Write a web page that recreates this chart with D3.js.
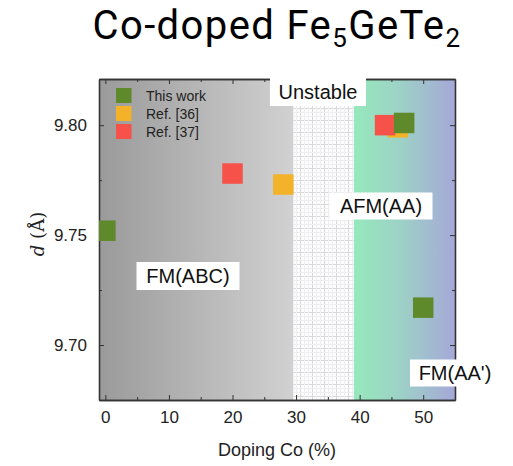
<!DOCTYPE html>
<html>
<head>
<meta charset="utf-8">
<script src="https://cdn.jsdelivr.net/npm/d3@7"></script>
<style>
  html, body { margin: 0; padding: 0; background: #fff; }
  svg { display: block; }
</style>
</head>
<body>
<svg id="chart" width="513" height="466"></svg>
<script>
// Interlayer distance d vs. Co doping level
const thisWork = [ {x: 0, y: 9.752}, {x: 47, y: 9.801}, {x: 50, y: 9.717} ];
const ref36    = [ {x: 28, y: 9.773}, {x: 46, y: 9.799} ];
const ref37    = [ {x: 20, y: 9.778}, {x: 44, y: 9.800} ];

const seriesNames  = ["This work", "Ref. [36]", "Ref. [37]"];
const seriesColors = ["#5f8a2c", "#f2b22a", "#f6524a"];

const xTicks = [0, 10, 20, 30, 40, 50];
const xMinor = [5, 15, 25, 35, 45];
const yTicks = [9.70, 9.75, 9.80];
const yMinor = [9.725, 9.775];

// Phase regions along the doping axis
const phaseBounds = { fmEnd: 29.6, unstableEnd: 39.1 };
const phaseLabels = ["FM(ABC)", "Unstable", "AFM(AA)", "FM(AA')"];

const svg = d3.select("#chart");
const L = 99, R = 455, T = 79, B = 400;

const x = d3.scaleLinear().domain([-1, 55]).range([L, R]);
const y = d3.scaleLinear().domain([9.675, 9.821]).range([B, T]);

const defs = svg.append("defs");
const gGray = defs.append("linearGradient").attr("id", "gGray")
  .attr("x1", "0%").attr("x2", "100%").attr("y1", "0%").attr("y2", "0%");
gGray.append("stop").attr("offset", "0%").attr("stop-color", "#9a9a9a");
gGray.append("stop").attr("offset", "100%").attr("stop-color", "#d1d1d1");

const gCool = defs.append("linearGradient").attr("id", "gCool")
  .attr("x1", "0%").attr("x2", "100%").attr("y1", "0%").attr("y2", "0%");
gCool.append("stop").attr("offset", "0%").attr("stop-color", "#96e8bc");
gCool.append("stop").attr("offset", "45%").attr("stop-color", "#9dd2c6");
gCool.append("stop").attr("offset", "100%").attr("stop-color", "#a5a8d8");

// Grid texture for the unstable window
const pat = defs.append("pattern").attr("id", "grid")
  .attr("patternUnits", "userSpaceOnUse").attr("width", 12).attr("height", 12);
pat.append("rect").attr("width", 12).attr("height", 12).attr("fill", "#fcfcfd");
[[0, "#d9d9dd"], [4, "#eeeef1"], [8, "#eeeef1"]].forEach(([p, c]) => {
  pat.append("rect").attr("x", p).attr("y", 0).attr("width", 1).attr("height", 12).attr("fill", c);
  pat.append("rect").attr("x", 0).attr("y", p).attr("width", 12).attr("height", 1).attr("fill", c);
});

defs.append("clipPath").attr("id", "plotClip")
  .append("rect").attr("x", L).attr("y", T).attr("width", R - L).attr("height", B - T);

// Backgrounds
svg.append("rect").attr("x", L).attr("y", T)
  .attr("width", x(phaseBounds.fmEnd) - L).attr("height", B - T).attr("fill", "url(#gGray)");
svg.append("rect").attr("x", x(phaseBounds.fmEnd)).attr("y", T)
  .attr("width", x(phaseBounds.unstableEnd) - x(phaseBounds.fmEnd)).attr("height", B - T)
  .attr("fill", "url(#grid)");
svg.append("rect").attr("x", x(phaseBounds.unstableEnd)).attr("y", T)
  .attr("width", R - x(phaseBounds.unstableEnd)).attr("height", B - T).attr("fill", "url(#gCool)");

// Axes (ticks point inward on all four sides)
const tickFont = "'Liberation Sans', Arial, sans-serif";
function styleAxis(g) {
  g.selectAll(".domain").attr("stroke", "#333").attr("stroke-width", 1.3);
  g.selectAll(".tick line").attr("stroke", "#333").attr("stroke-width", 1);
}
function addAxis(axisFn, scale, pos, vals, len, labelled, pad) {
  const isX = axisFn === d3.axisBottom || axisFn === d3.axisTop;
  let ax = axisFn(scale).tickValues(vals).tickSize(-len).tickSizeOuter(0);
  if (labelled) ax = ax.tickPadding(pad).tickFormat(isX ? d3.format("d") : d3.format(".2f"));
  else ax = ax.tickFormat("");
  const g = svg.append("g")
    .attr("transform", isX ? `translate(0,${pos})` : `translate(${pos},0)`)
    .call(ax);
  g.selectAll("text").attr("font-family", tickFont).attr("font-size", 17).attr("fill", "#222");
  styleAxis(g);
  return g;
}
addAxis(d3.axisBottom, x, B, xTicks, 5, true, 11);
addAxis(d3.axisBottom, x, B, xMinor, 3, false);
addAxis(d3.axisTop, x, T, xTicks, 5, false);
addAxis(d3.axisTop, x, T, xMinor, 3, false);
addAxis(d3.axisLeft, y, L, yTicks, 5, true, 12);
addAxis(d3.axisLeft, y, L, yMinor, 3, false);
addAxis(d3.axisRight, y, R, yTicks, 5, false);
addAxis(d3.axisRight, y, R, yMinor, 3, false);

// Data markers
const size = 20.5;
const plot = svg.append("g").attr("clip-path", "url(#plotClip)");
[[ref36, 1], [ref37, 2], [thisWork, 0]].forEach(([data, idx]) => {
  plot.selectAll(null).data(data).enter().append("rect")
    .attr("x", d => x(d.x) - size / 2).attr("y", d => y(d.y) - size / 2)
    .attr("width", size).attr("height", size)
    .attr("fill", seriesColors[idx]);
});

// Phase labels with white boxes
function boxedLabel(text, cx, cy, w, h) {
  const g = svg.append("g");
  g.append("rect").attr("x", cx - w / 2).attr("y", cy - h / 2)
    .attr("width", w).attr("height", h).attr("fill", "#fff");
  g.append("text").attr("x", cx).attr("y", cy).attr("dy", "0.36em")
    .attr("text-anchor", "middle").attr("font-family", tickFont)
    .attr("font-size", 20).attr("fill", "#111").text(text);
}
boxedLabel(phaseLabels[0], 188, 276, 103, 28);
boxedLabel(phaseLabels[1], 318, 92, 96, 28);
boxedLabel(phaseLabels[2], 381, 206, 103, 27);
boxedLabel(phaseLabels[3], 455, 373, 90, 27);

// Legend
const legend = svg.append("g");
seriesNames.forEach((name, i) => {
  const ly = 95.5 + i * 18;
  legend.append("rect").attr("x", 116).attr("y", ly - 7.5).attr("width", 15.5).attr("height", 15)
    .attr("fill", seriesColors[i]);
  legend.append("text").attr("x", 146).attr("y", ly).attr("dy", "0.36em")
    .attr("font-family", tickFont).attr("font-size", 14).attr("fill", "#222").text(name);
});

// Axis titles
svg.append("text").attr("x", 277).attr("y", 450).attr("dy", "0.36em")
  .attr("text-anchor", "middle").attr("font-family", tickFont).attr("font-size", 18)
  .attr("fill", "#222").text("Doping Co (%)");

const yl = svg.append("text").attr("transform", "translate(38,234) rotate(-90)")
  .attr("dy", "0.36em").attr("text-anchor", "middle")
  .attr("font-family", "'DejaVu Serif', 'Liberation Serif', serif").attr("font-size", 18).attr("fill", "#222");
yl.append("tspan").attr("font-style", "italic").text("d");
yl.append("tspan").text(" (Å)");

// Title
const title = svg.append("text").attr("x", 277).attr("y", 38.5)
  .attr("text-anchor", "middle").attr("font-family", "Roboto, 'Liberation Sans', sans-serif")
  .attr("font-size", 40).attr("letter-spacing", 1.4).attr("fill", "#000");
title.append("tspan").text("Co-doped Fe");
title.append("tspan").attr("font-size", 26).attr("dy", 8).text("5");
title.append("tspan").attr("dy", -8).text("GeTe");
title.append("tspan").attr("font-size", 26).attr("dy", 8).text("2");
</script>
</body>
</html>
